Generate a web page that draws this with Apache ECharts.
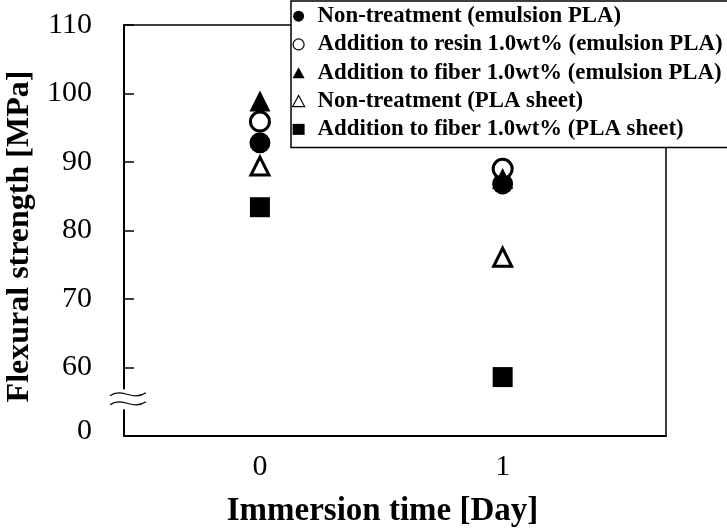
<!DOCTYPE html>
<html><head><meta charset="utf-8">
<script src="https://cdn.jsdelivr.net/npm/echarts@6/dist/echarts.min.js"></script>
<style>html,body{margin:0;padding:0;background:#fff}#c{width:727px;height:532px}</style>
</head><body><div id="c"></div>
<script>
// ---- data ----
const days = [0, 1];
const seriesNames = [
  'Non-treatment (emulsion PLA)',
  'Addition to resin 1.0wt% (emulsion PLA)',
  'Addition to fiber 1.0wt% (emulsion PLA)',
  'Non-treatment (PLA sheet)',
  'Addition to fiber 1.0wt% (PLA sheet)'
];
const nonTreatEmulsion = [92.8, 86.8];
const resinEmulsion    = [95.9, 89.0];
const fiberEmulsion    = [98.9, 87.6];
const nonTreatSheet    = [89.4, 76.1];
const fiberSheet       = [83.4, 58.6];
const yTickValues = [50, 60, 70, 80, 90, 100, 110];
const yTickLabels = ['0', '60', '70', '80', '90', '100', '110'];
const xTitle = 'Immersion time [Day]';
const yTitle = 'Flexural strength [MPa]';

// ---- chart ----
const FONT = "'Liberation Serif', 'Times New Roman', serif";
const chart = echarts.init(document.getElementById('c'), null, {renderer: 'canvas'});
const toPts = arr => days.map((d, i) => [d, arr[i]]);

const styles = [
  {symbol: 'circle', size: 21, itemStyle: {color: '#000'}},
  {symbol: 'circle', size: 19, itemStyle: {color: '#fff', borderColor: '#000', borderWidth: 3}},
  {symbol: 'triangle', size: 21, itemStyle: {color: '#000'}},
  {symbol: 'triangle', size: 18, itemStyle: {color: '#fff', borderColor: '#000', borderWidth: 3}},
  {symbol: 'rect', size: 20, itemStyle: {color: '#000'}}
];
const values = [nonTreatEmulsion, resinEmulsion, fiberEmulsion, nonTreatSheet, fiberSheet];

chart.setOption({
  animation: false,
  backgroundColor: '#fff',
  grid: {left: 124, top: 25, right: 61, bottom: 96, show: true, borderColor: '#000', borderWidth: 1.5, outerBoundsMode: 'none', containLabel: false},
  xAxis: {
    type: 'value', min: -0.56, max: 1.673,
    axisLine: {show: true, onZero: false, lineStyle: {color: '#000', width: 2}},
    axisTick: {show: false},
    splitLine: {show: false},
    axisLabel: {customValues: days, fontSize: 30, color: '#000', fontFamily: FONT, margin: 16},
    name: xTitle, nameLocation: 'middle', nameGap: 59,
    nameTextStyle: {fontSize: 33, fontWeight: 'bold', color: '#000', fontFamily: FONT, padding: [0, 25, 0, 0]}
  },
  yAxis: {
    type: 'value', min: 50, max: 110, interval: 10,
    axisLine: {show: true, onZero: false, lineStyle: {color: '#000', width: 2}},
    axisTick: {show: true, inside: true, length: 10, lineStyle: {color: '#000', width: 1.5}},
    splitLine: {show: false},
    axisLabel: {
      fontSize: 30, color: '#000', fontFamily: FONT, margin: 32,
      formatter: v => { const i = yTickValues.indexOf(v); return i === 0 ? '{z|' + yTickLabels[i] + '}' : (i >= 0 ? yTickLabels[i] : ''); },
      rich: {z: {fontSize: 30, color: '#000', fontFamily: FONT, padding: [0, 0, 10, 0]}}
    },
    name: yTitle, nameLocation: 'middle', nameGap: 88,
    nameTextStyle: {fontSize: 32, fontWeight: 'bold', color: '#000', fontFamily: FONT, padding: [0, 12, 0, 0]}
  },
  legend: {
    orient: 'vertical', left: 291, top: 1, itemGap: 0, itemWidth: 12, itemHeight: 11,
    padding: [1, 30, 4, 1], borderColor: '#000', borderWidth: 1.5, backgroundColor: '#fff',
    textStyle: {fontFamily: FONT, fontWeight: 'bold', fontSize: 22.8, color: '#000', lineHeight: 28.3, padding: [0, 0, 0, 8]},
    data: seriesNames.map((n, i) => ({name: n, itemStyle: styles[i].itemStyle.borderWidth ? {borderWidth: 1.2} : {}}))
  },
  series: seriesNames.map((n, i) => ({
    name: n, type: 'scatter', symbol: styles[i].symbol, symbolSize: styles[i].size,
    itemStyle: Object.assign({opacity: 1}, styles[i].itemStyle),
    emphasis: {disabled: true},
    data: toPts(values[i])
  }))
});

// axis-break decoration located from the axis scale
const yb = chart.convertToPixel({yAxisIndex: 0}, 55.5);
const xl = chart.convertToPixel({xAxisIndex: 0}, -0.56);
const wave = (dy) => ({
  type: 'bezierCurve',
  shape: {x1: xl - 14, y1: yb + dy + 2, cpx1: xl - 2, cpy1: yb + dy - 7, cpx2: xl + 8, cpy2: yb + dy + 8, x2: xl + 22, y2: yb + dy - 1},
  style: {stroke: '#000', lineWidth: 1.2, fill: null}, z: 101
});
chart.setOption({
  graphic: [
    {type: 'rect', shape: {x: xl - 4, y: yb - 9, width: 8, height: 20}, style: {fill: '#fff'}, z: 100},
    wave(-4.5), wave(4.5)
  ]
});
</script></body></html>
